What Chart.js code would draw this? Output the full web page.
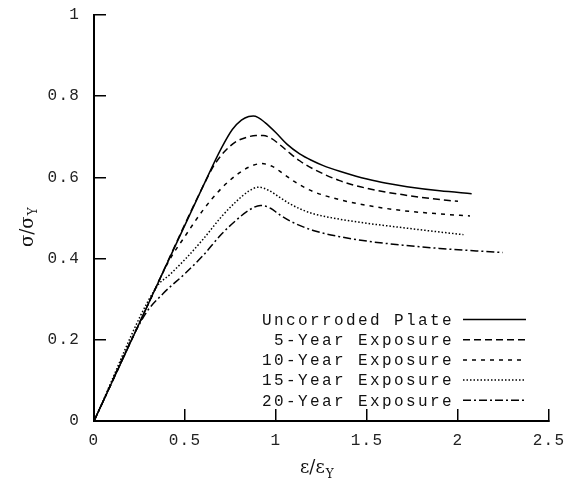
<!DOCTYPE html>
<html>
<head>
<meta charset="utf-8">
<script src="https://cdn.jsdelivr.net/npm/chart.js@4.4.0/dist/chart.umd.min.js"></script>
<style>
    html, body { margin: 0; padding: 0; background: #fff; }
</style>
</head>
<body>
<canvas id="stressStrainChart" width="575" height="486"></canvas>
<script>
    // series labels (legend)
    const seriesLabels = [
        'Uncorroded Plate',
        '5-Year Exposure',
        '10-Year Exposure',
        '15-Year Exposure',
        '20-Year Exposure'
    ];

    // strain (eps/epsY) and stress (sigma/sigmaY)
    const strainPlate = [0, 0.3, 0.6, 0.7, 0.76, 0.81, 0.85, 0.875, 0.9, 0.94, 1.0, 1.06, 1.13, 1.2, 1.26, 1.35, 1.44, 1.5, 1.6, 1.72, 1.9, 2.075];
    const stressPlate = [0, 0.29, 0.579, 0.672, 0.718, 0.741, 0.75, 0.751, 0.748, 0.735, 0.71, 0.682, 0.658, 0.641, 0.629, 0.615, 0.603, 0.596, 0.586, 0.577, 0.567, 0.56];

    const strain5yr = [0, 0.3, 0.6, 0.66, 0.72, 0.78, 0.84, 0.89, 0.93, 0.97, 1.02, 1.07, 1.13, 1.2, 1.35, 1.5, 1.7, 1.85, 2.0];
    const stress5yr = [0, 0.29, 0.579, 0.63, 0.665, 0.688, 0.699, 0.703, 0.703, 0.697, 0.681, 0.662, 0.641, 0.622, 0.592, 0.573, 0.557, 0.548, 0.541];

    const strain10yr = [0, 0.3, 0.41, 0.5, 0.6, 0.7, 0.78, 0.85, 0.92, 0.98, 1.04, 1.1, 1.2, 1.35, 1.5, 1.7, 1.9, 2.066];
    const stress10yr = [0, 0.29, 0.393, 0.455, 0.52, 0.573, 0.605, 0.625, 0.634, 0.627, 0.609, 0.59, 0.566, 0.545, 0.531, 0.518, 0.51, 0.505];

    const strain15yr = [0, 0.34, 0.42, 0.5, 0.6, 0.7, 0.78, 0.85, 0.905, 0.96, 1.02, 1.08, 1.14, 1.2, 1.35, 1.5, 1.7, 1.85, 2.03];
    const stress15yr = [0, 0.328, 0.362, 0.398, 0.448, 0.503, 0.54, 0.566, 0.576, 0.568, 0.551, 0.534, 0.521, 0.511, 0.497, 0.487, 0.476, 0.468, 0.459];

    const strain20yr = [0, 0.28, 0.38, 0.5, 0.6, 0.7, 0.78, 0.85, 0.915, 0.97, 1.02, 1.08, 1.2, 1.35, 1.5, 1.7, 1.9, 2.1, 2.246];
    const stress20yr = [0, 0.262, 0.314, 0.363, 0.408, 0.46, 0.494, 0.519, 0.531, 0.524, 0.508, 0.492, 0.47, 0.454, 0.443, 0.433, 0.425, 0.419, 0.415];

    // axis ranges / ticks
    const xTicks = [0, 0.5, 1, 1.5, 2, 2.5];
    const yTicks = [0, 0.2, 0.4, 0.6, 0.8, 1];

    const dashes = [[], [7, 4], [4, 5], [1.5, 2], [8, 3, 2, 3]];
    const monoFont = '"Liberation Mono", "DejaVu Sans Mono", monospace';
    const serifFont = '"DejaVu Serif", "Liberation Serif", serif';

    function toPoints(xs, ys) {
        return xs.map((x, i) => ({ x: x, y: ys[i] }));
    }

    const allSeries = [
        toPoints(strainPlate, stressPlate),
        toPoints(strain5yr, stress5yr),
        toPoints(strain10yr, stress10yr),
        toPoints(strain15yr, stress15yr),
        toPoints(strain20yr, stress20yr)
    ];

    // wider letter pitch, closer to the courier look of the original
    const spacingPlugin = {
        id: 'spacing',
        beforeDraw(chart) {
            chart.ctx.letterSpacing = '1.2px';
        }
    };

    // axis titles with subscripts + legend drawn inside the plot
    const decorPlugin = {
        id: 'decor',
        afterDraw(chart) {
            const ctx = chart.ctx;
            const area = chart.chartArea;
            ctx.save();
            ctx.letterSpacing = '0px';
            ctx.fillStyle = '#111';

            // x title
            ctx.textBaseline = 'alphabetic';
            ctx.textAlign = 'left';
            ctx.font = '18px ' + serifFont;
            const xMain = 'ε/ε';
            const xw = ctx.measureText(xMain).width;
            const xStart = 300;
            ctx.fillText(xMain, xStart, 473);
            ctx.font = '12px ' + serifFont;
            ctx.fillText('Y', xStart + xw + 1, 478);

            // y title
            ctx.save();
            ctx.translate(33, 247);
            ctx.rotate(-Math.PI / 2);
            ctx.font = '18px ' + serifFont;
            const yw = ctx.measureText('σ/σ').width;
            ctx.fillText('σ/σ', 0, 0);
            ctx.font = '12px ' + serifFont;
            ctx.fillText('Y', yw + 1, 4);
            ctx.restore();

            // legend
            ctx.font = '16px ' + monoFont;
            ctx.letterSpacing = '2.4px';
            ctx.textAlign = 'right';
            ctx.textBaseline = 'middle';
            chart.data.datasets.forEach((ds, i) => {
                const y = area.bottom - 101.5 + i * 20.2;
                ctx.fillStyle = '#111';
                ctx.fillText(ds.label, area.right - 95, y + 1);
                ctx.beginPath();
                ctx.setLineDash(ds.borderDash || []);
                ctx.lineWidth = ds.borderWidth;
                ctx.strokeStyle = ds.borderColor;
                ctx.moveTo(area.right - 86, y);
                ctx.lineTo(area.right - 23, y);
                ctx.stroke();
            });
            ctx.restore();
        }
    };

    const ctxChart = document.getElementById('stressStrainChart').getContext('2d');

    new Chart(ctxChart, {
        type: 'scatter',
        data: {
            datasets: allSeries.map((pts, i) => ({
                label: seriesLabels[i],
                data: pts,
                showLine: true,
                borderColor: '#000',
                backgroundColor: '#000',
                borderWidth: 1.5,
                borderDash: dashes[i],
                pointRadius: 0,
                cubicInterpolationMode: 'monotone'
            }))
        },
        options: {
            responsive: false,
            animation: false,
            layout: {
                padding: { top: 15, right: 26, left: 0, bottom: 0 }
            },
            plugins: {
                legend: { display: false },
                tooltip: { enabled: false }
            },
            scales: {
                x: {
                    type: 'linear',
                    min: xTicks[0],
                    max: xTicks[xTicks.length - 1],
                    afterBuildTicks: s => { s.ticks = xTicks.map(v => ({ value: v })); },
                    afterFit: s => {
                        s.height = 65;
                        s.paddingLeft = 0;
                        s.paddingRight = 0;
                    },
                    border: { display: true, color: '#000', width: 2 },
                    grid: { drawOnChartArea: false, drawTicks: true, tickLength: -12, color: '#000', lineWidth: 1.5 },
                    ticks: {
                        padding: 22,
                        color: '#222',
                        maxRotation: 0,
                        callback: v => String(v),
                        font: { family: monoFont, size: 16 }
                    }
                },
                y: {
                    type: 'linear',
                    min: yTicks[0],
                    max: yTicks[yTicks.length - 1],
                    afterBuildTicks: s => { s.ticks = yTicks.map(v => ({ value: v })); },
                    afterFit: s => {
                        s.width = 94;
                        s.paddingTop = 0;
                        s.paddingBottom = 0;
                    },
                    border: { display: true, color: '#000', width: 2 },
                    grid: { drawOnChartArea: false, drawTicks: true, tickLength: -12, color: '#000', lineWidth: 1.5 },
                    ticks: {
                        padding: 26,
                        color: '#222',
                        callback: v => String(v),
                        font: { family: monoFont, size: 16 }
                    }
                }
            }
        },
        plugins: [spacingPlugin, decorPlugin]
    });
</script>
</body>
</html>
